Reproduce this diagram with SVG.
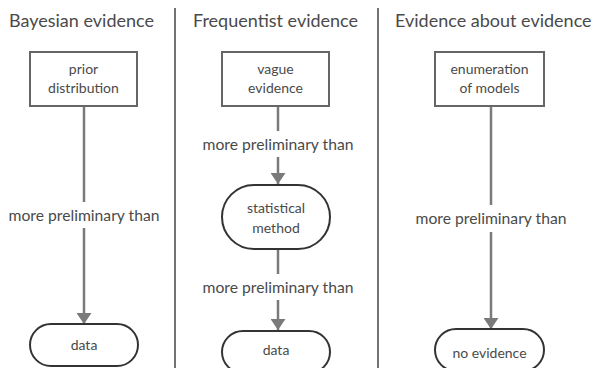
<svg xmlns="http://www.w3.org/2000/svg" width="593" height="368" viewBox="0 0 593 368">
<style>
text{font-family:Lato,"Open Sans",sans-serif;fill:#4a4a4a;text-anchor:middle}
.t{font-size:18px;text-anchor:start}
.n{font-size:14px}
.l{font-size:15.7px}
.box{fill:#fff;stroke:#666;stroke-width:2}
.st{fill:#fff;stroke:#333;stroke-width:2}
.c{stroke:#7a7a7a;stroke-width:2.5;fill:none}
.div{stroke:#444;stroke-width:1.5}
</style>
<defs>
<marker id="ah" viewBox="0 0 11 15" refX="11" refY="7.5" markerWidth="11" markerHeight="15" markerUnits="userSpaceOnUse" orient="auto">
<path d="M0,0L11,7.5L0,15z" fill="#7a7a7a"/>
</marker>
</defs>
<rect width="593" height="368" fill="#fff"/>
<g id="dividers">
<line class="div" x1="175" y1="8" x2="175" y2="368"/>
<line class="div" x1="378" y1="8" x2="378" y2="368"/>
</g>
<g id="titles">
<text class="t" x="9" y="27">Bayesian evidence</text>
<text class="t" x="193" y="27">Frequentist evidence</text>
<text class="t" x="395" y="27">Evidence about evidence</text>
</g>
<g id="connectors">
<line class="c" x1="84" y1="106" x2="84" y2="202"/>
<line class="c" x1="84" y1="228" x2="84" y2="324" marker-end="url(#ah)"/>
<text class="l" x="84" y="221">more preliminary than</text>
<line class="c" x1="278" y1="106" x2="278" y2="131"/>
<line class="c" x1="278" y1="157" x2="278" y2="184" marker-end="url(#ah)"/>
<text class="l" x="278" y="150">more preliminary than</text>
<line class="c" x1="278" y1="249" x2="278" y2="274"/>
<line class="c" x1="278" y1="300" x2="278" y2="330" marker-end="url(#ah)"/>
<text class="l" x="278" y="293">more preliminary than</text>
<line class="c" x1="491" y1="106" x2="491" y2="205"/>
<line class="c" x1="491" y1="232" x2="491" y2="329" marker-end="url(#ah)"/>
<text class="l" x="491" y="224">more preliminary than</text>
</g>
<g id="prior">
<rect class="box" x="30" y="52" width="107" height="54"/>
<text class="n" x="83.5" y="74">prior</text>
<text class="n" x="83.5" y="93">distribution</text>
</g>
<g id="data1">
<rect class="st" x="30" y="324" width="108" height="42" rx="21"/>
<text class="n" x="84" y="350">data</text>
</g>
<g id="vague">
<rect class="box" x="222" y="52" width="107" height="54"/>
<text class="n" x="275.5" y="74">vague</text>
<text class="n" x="275.5" y="93">evidence</text>
</g>
<g id="method">
<rect class="st" x="222" y="185" width="108" height="64" rx="32"/>
<text class="n" x="276" y="213">statistical</text>
<text class="n" x="276" y="233">method</text>
</g>
<g id="data2">
<rect class="st" x="222" y="331" width="108" height="42" rx="21"/>
<text class="n" x="276" y="355">data</text>
</g>
<g id="enum">
<rect class="box" x="435" y="52" width="109" height="54"/>
<text class="n" x="489.5" y="74">enumeration</text>
<text class="n" x="489.5" y="93">of models</text>
</g>
<g id="noev">
<rect class="st" x="435" y="329" width="109" height="42" rx="21"/>
<text class="n" x="489.5" y="358">no evidence</text>
</g>
</svg>
